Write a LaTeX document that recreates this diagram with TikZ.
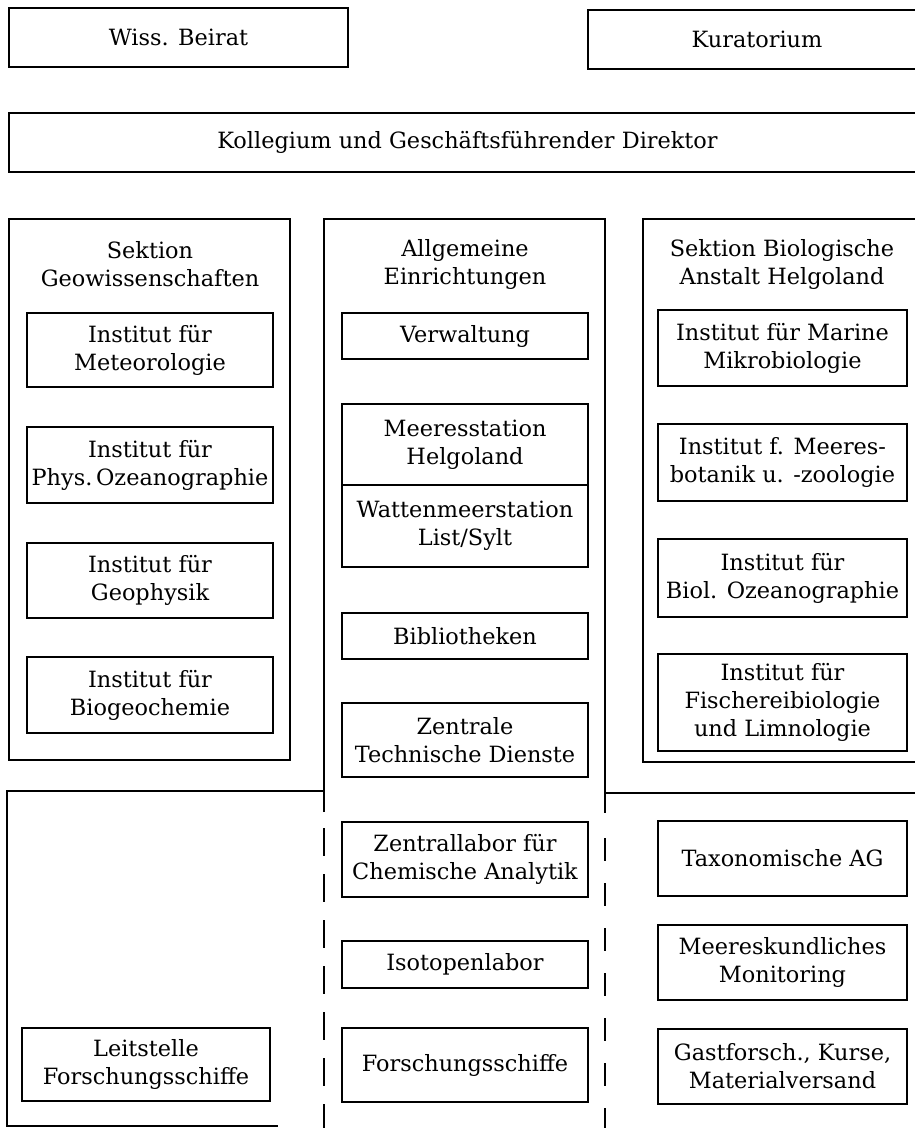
\documentclass[tikz,border=0pt]{standalone}
\usepackage{fontspec}
\setmainfont{DejaVu Serif}
\tikzset{
  frame/.style={line width=1.8pt},
  unitbox/.style={draw, line width=1.8pt, align=center, inner sep=0pt},
  title/.style={align=center, inner sep=0pt}
}
\begin{document}
\begin{tikzpicture}[x=1pt, y=-1pt, font=\fontsize{22.4}{28}\selectfont]
	\useasboundingbox (0,0) rectangle (915,1128);
	% top level
	\node[unitbox, minimum width=339, minimum height=59] (beirat) at (178.5,37.5) {Wiss. Beirat};
	\node[unitbox, minimum width=338, minimum height=59] (kurat) at (757,39.5) {Kuratorium};
	\node[unitbox, minimum width=917, minimum height=59] (kolleg) at (467.5,142.5) {Kollegium und Geschäftsführender Direktor};
	% section frames
	\draw[frame] (9,219) rectangle (290,760);
	\draw[frame] (643,219) rectangle (935,762);
	\draw[frame] (324,812) -- (324,219) -- (605,219) -- (605,813);
	\draw[frame, dash pattern=on 28pt off 18pt] (324,828) -- (324,1140);
	\draw[frame, dash pattern=on 23pt off 22pt] (605,838) -- (605,1140);
	\draw[frame] (324,791) -- (7,791) -- (7,1126) -- (278,1126);
	\draw[frame] (605,793) -- (935,793);
	% section titles
	\node[title] (geo) at (150,264) {Sektion\\Geowissenschaften};
	\node[title] (allg) at (465,264) {Allgemeine\\Einrichtungen};
	\node[title] (bio) at (782,264) {Sektion Biologische\\Anstalt Helgoland};
	% left column
	\node[unitbox, minimum width=246, minimum height=74] (meteo) at (150,350) {Institut für\\Meteorologie};
	\node[unitbox, minimum width=246, minimum height=76] (physoz) at (150,465) {Institut für\\Phys.\,Ozeanographie};
	\node[unitbox, minimum width=246, minimum height=75] (geoph) at (150,580.5) {Institut für\\Geophysik};
	\node[unitbox, minimum width=246, minimum height=76] (biogeo) at (150,695) {Institut für\\Biogeochemie};
	\node[unitbox, minimum width=248, minimum height=73] (leit) at (146,1064.5) {Leitstelle\\Forschungsschiffe};
	% middle column
	\node[unitbox, minimum width=246, minimum height=46] (verw) at (465,336) {Verwaltung};
	\node[unitbox, minimum width=246, minimum height=81] (helgo) at (465,444.5) {Meeresstation\\Helgoland};
	\node[unitbox, minimum width=246, minimum height=82] (sylt) at (465,526) {Wattenmeerstation\\List/Sylt};
	\node[unitbox, minimum width=246, minimum height=46] (bib) at (465,636) {Bibliotheken};
	\node[unitbox, minimum width=246, minimum height=74] (ztd) at (465,740) {Zentrale\\Technische Dienste};
	\node[unitbox, minimum width=246, minimum height=75] (zlab) at (465,859.5) {Zentrallabor für\\Chemische Analytik};
	\node[unitbox, minimum width=246, minimum height=47] (iso) at (465,964.5) {Isotopenlabor};
	\node[unitbox, minimum width=246, minimum height=74] (schiffe) at (465,1065) {Forschungsschiffe};
	% right column
	\node[unitbox, minimum width=249, minimum height=76] (mikro) at (782.5,348) {Institut für Marine\\Mikrobiologie};
	\node[unitbox, minimum width=249, minimum height=77] (botzoo) at (782.5,462.5) {Institut f. Meeres-\\botanik u. -zoologie};
	\node[unitbox, minimum width=249, minimum height=78] (biooz) at (782.5,578) {Institut für\\Biol. Ozeanographie};
	\node[unitbox, minimum width=249, minimum height=97] (fisch) at (782.5,702.5) {Institut für\\Fischereibiologie\\und Limnologie};
	\node[unitbox, minimum width=249, minimum height=75] (taxo) at (782.5,858.5) {Taxonomische AG};
	\node[unitbox, minimum width=249, minimum height=75] (monit) at (782.5,962.5) {Meereskundliches\\Monitoring};
	\node[unitbox, minimum width=249, minimum height=75] (gast) at (782.5,1066.5) {Gastforsch., Kurse,\\Materialversand};
\end{tikzpicture}
\end{document}
